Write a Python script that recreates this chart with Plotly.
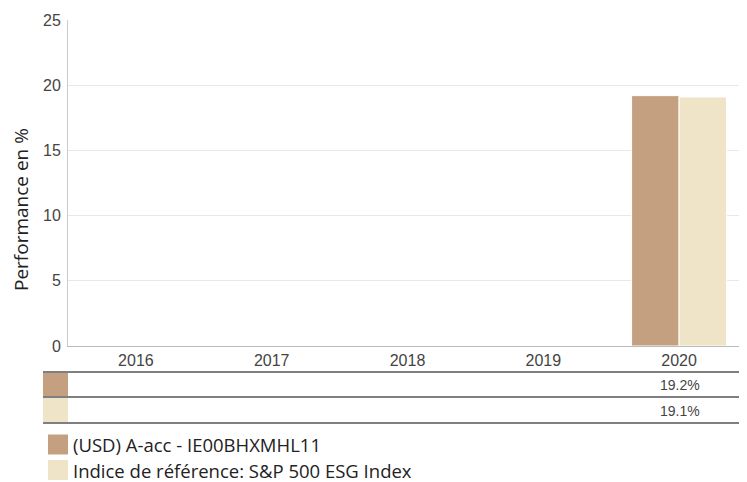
import plotly.graph_objects as go

years = ["2016", "2017", "2018", "2019", "2020"]
fund_name = "(USD) A-acc - IE00BHXMHL11"
index_name = "Indice de référence: S&P 500 ESG Index"
fund_values = [None, None, None, None, 19.2]
index_values = [None, None, None, None, 19.1]
y_ticks = [0, 5, 10, 15, 20, 25]

fund_color = "#C4A080"
index_color = "#F0E4C8"

OFF = 8  # page body margin
W, H = 747 - OFF, 482 - OFF
L, R, T, B = 68 - OFF, 747 - OFF, 20 - OFF, 346 - OFF

def px(x):
    return (x - OFF - L) / (R - L)

def py(y):
    return (B - (y - OFF)) / (B - T)

fig = go.Figure()
fig.add_trace(go.Bar(x=years, y=fund_values, name=fund_name,
                     marker=dict(color=fund_color, line=dict(color="white", width=1))))
fig.add_trace(go.Bar(x=years, y=index_values, name=index_name,
                     marker=dict(color=index_color, line=dict(color="white", width=1))))

shapes = []
annotations = []
# table lines
for yy in [372, 397, 423]:
    shapes.append(dict(type="line", xref="paper", yref="paper", x0=px(43), x1=px(747),
                       y0=py(yy), y1=py(yy), line=dict(color="#555555", width=1.5)))
# table swatches
shapes.append(dict(type="rect", xref="paper", yref="paper", x0=px(43), x1=px(68),
                   y0=py(396), y1=py(373), fillcolor=fund_color, line=dict(width=0)))
shapes.append(dict(type="rect", xref="paper", yref="paper", x0=px(43), x1=px(68),
                   y0=py(422), y1=py(398), fillcolor=index_color, line=dict(width=0)))
# table values (x given as category index)
for i, yr in enumerate(years):
    for vals, yy in [(fund_values, 385), (index_values, 411)]:
        v = vals[i]
        if v is not None:
            annotations.append(dict(x=i + 0.01, xref="x", yref="paper", y=py(yy), text=f"{v:.1f}%",
                                    showarrow=False, xanchor="center", yanchor="middle",
                                    font=dict(family="Liberation Sans, Arial", size=14, color="#444444")))
# legend
for name, color, yc in [(fund_name, fund_color, 444.5), (index_name, index_color, 470)]:
    shapes.append(dict(type="rect", xref="paper", yref="paper", x0=px(48), x1=px(68),
                       y0=py(yc + 10), y1=py(yc - 10), fillcolor=color, line=dict(width=0)))
    annotations.append(dict(x=px(72), xref="paper", yref="paper", y=py(yc), text=name,
                            showarrow=False, xanchor="left", yanchor="middle", borderpad=0,
                            font=dict(family="Open Sans", size=18.5, color="#222222")))
# y-axis title
annotations.append(dict(x=px(21), xref="paper", yref="paper", y=py(210), text="Performance en %",
                        textangle=-90, showarrow=False, xanchor="center", yanchor="middle",
                        borderpad=0,
                        font=dict(family="Open Sans", size=19, color="#222222")))

fig.update_layout(
    width=W, height=H,
    margin=dict(l=L, r=W - R, t=T, b=H - B, pad=0),
    paper_bgcolor="white", plot_bgcolor="white",
    barmode="group", bargap=0.3, bargroupgap=0.0,
    showlegend=False,
    shapes=shapes, annotations=annotations,
    xaxis=dict(type="category", categoryorder="array", categoryarray=years,
               range=[-0.5, 4.5], showgrid=False, ticks="",
               showline=True, linecolor="#bbbbbb", linewidth=1,
               tickfont=dict(family="Liberation Sans, Arial", size=16, color="#444444")),
    yaxis=dict(range=[0, 25], tickvals=y_ticks, showgrid=True, gridcolor="#e8e8e8",
               showline=True, linecolor="#cccccc", linewidth=1, zeroline=False,
               ticks="outside", ticklen=3, tickcolor="rgba(0,0,0,0)",
               tickfont=dict(family="Liberation Sans, Arial", size=16, color="#444444")),
)

fig.write_html("out.html")
